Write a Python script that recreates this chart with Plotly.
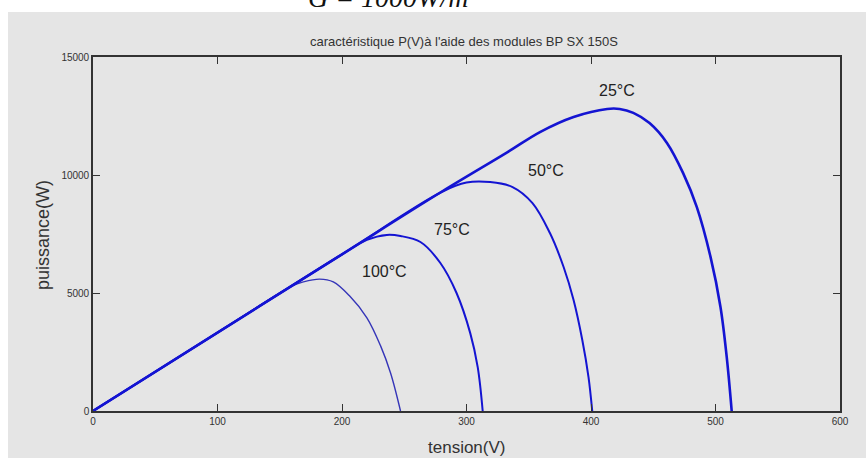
import plotly.graph_objects as go

# ---- data ----
v_25 = [0, 100, 200, 280, 333, 359, 386, 413, 423, 434, 447, 461, 474, 485, 496, 504, 509, 513]
p_25 = [0, 3320, 6640, 9290, 10970, 11820, 12460, 12800, 12800, 12630, 12200, 11360, 10080, 8640, 6530, 4410, 2290, 0]

v_50 = [0, 100, 200, 280, 300, 319, 337, 353, 367, 378, 386, 393, 398, 401]
p_50 = [0, 3320, 6640, 9280, 9680, 9700, 9490, 8810, 7540, 6100, 4700, 3010, 1440, 0]

v_75 = [0, 100, 200, 220, 236, 247, 263, 279, 292, 303, 309, 313]
p_75 = [0, 3320, 6640, 7250, 7460, 7415, 7160, 6270, 5000, 3300, 1860, 0]

v_100 = [0, 100, 160, 169, 182, 193, 206, 220, 231, 239, 247]
p_100 = [0, 3320, 5300, 5470, 5590, 5470, 4880, 3950, 2760, 1610, 0]

label_text = ["25°C", "50°C", "75°C", "100°C"]
label_v = [421, 364, 288, 234]
label_p = [13560, 10170, 7710, 5930]

x_ticks = [0, 100, 200, 300, 400, 500, 600]
y_ticks = [0, 5000, 10000, 15000]

title_text = "caractéristique P(V)à l'aide des modules BP SX 150S"
top_text = "G = 1000W/m²"
x_title = "tension(V)"
y_title = "puissance(W)"

# ---- layout geometry (pixels) ----
W, H = 866, 458
L, R, T, B = 93, 26, 57, 47
PW, PH = W - L - R, H - T - B


def px_x(px):
    return (px - L) / PW


def px_y(py):
    return (H - B - py) / PH


GRAY = "#e5e5e5"
BLUE = "#1414d2"

fig = go.Figure()
series = [(v_100, p_100, 1.4, "#3535b8"), (v_75, p_75, 2.0, BLUE),
          (v_50, p_50, 2.0, BLUE), (v_25, p_25, 2.6, BLUE)]
for vx, py, w, c in series:
    fig.add_trace(go.Scatter(x=vx, y=py, mode="lines",
                             line=dict(color=c, width=w, shape="spline", smoothing=1.0),
                             showlegend=False, hoverinfo="skip"))

for t, vx, py in zip(label_text, label_v, label_p):
    fig.add_annotation(x=vx, y=py, text=t, showarrow=False, xanchor="center", yanchor="middle",
                       font=dict(family="Arial, Liberation Sans", size=16, color="#222"))

axis_common = dict(showline=True, linecolor="#333", linewidth=1.6, mirror="ticks",
                   ticks="inside", ticklen=7, tickcolor="#333", tickwidth=1,
                   showgrid=False, zeroline=False,
                   tickfont=dict(family="Arial, Liberation Sans", size=10, color="#333"))

fig.update_xaxes(range=[0, 600], tickvals=x_ticks, ticktext=[str(t) for t in x_ticks], **axis_common)
fig.update_yaxes(range=[0, 15000], tickvals=y_ticks, ticktext=[str(t) for t in y_ticks], **axis_common)

fig.add_shape(type="rect", xref="paper", yref="paper",
              x0=px_x(8), x1=px_x(W + 5), y0=px_y(H + 5), y1=px_y(12),
              fillcolor=GRAY, line=dict(width=0), layer="below")

fig.add_annotation(xref="paper", yref="paper", x=px_x(464), y=px_y(42), text=title_text,
                   xanchor="center", yanchor="middle",
                   showarrow=False, font=dict(family="Arial, Liberation Sans", size=13, color="#333"))
fig.add_annotation(xref="paper", yref="paper", x=px_x(466), y=px_y(447), text=x_title,
                   xanchor="center", yanchor="middle",
                   showarrow=False, font=dict(family="Arial, Liberation Sans", size=17, color="#333"))
fig.add_annotation(xref="paper", yref="paper", x=px_x(43), y=px_y(235), text=y_title,
                   xanchor="center", yanchor="middle",
                   textangle=-90, showarrow=False,
                   font=dict(family="Arial, Liberation Sans", size=18, color="#333"))
fig.add_annotation(xref="paper", yref="paper", x=px_x(392), y=px_y(15), yanchor="bottom",
                   xanchor="center", text=top_text, showarrow=False,
                   font=dict(family="Liberation Serif, Times New Roman", size=28, color="#111",
                             style="italic"))

fig.update_layout(width=W, height=H, margin=dict(l=L, r=R, t=T, b=B),
                  paper_bgcolor="white", plot_bgcolor=GRAY)

fig.write_html("out.html")
